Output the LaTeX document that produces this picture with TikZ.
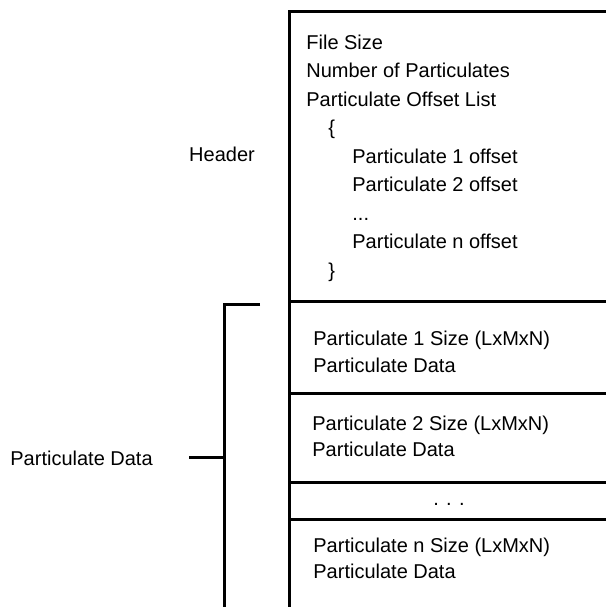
\documentclass[tikz,border=0pt]{standalone}
\usepackage{fontspec}
\setmainfont{Liberation Sans}
\usetikzlibrary{positioning}

\begin{document}
\begin{tikzpicture}[x=0.5pt,y=-0.5pt]
			\tikzstyle{every node} = [font = \fontsize{10}{12}\selectfont, inner sep = 0pt, anchor = base west]
			\tikzstyle{wall} = [line width = 1.5pt]
				\useasboundingbox (0,0) rectangle (606,607);
				% outer box, open to the right and below
				\coordinate (corner) at (289,11);
				\coordinate (topright) at (620,11);
				\coordinate (bottomleft) at (289,620);
				\path[draw,wall] (topright) -- (corner) -- (bottomleft);
				\foreach \y/\sep in {301/sepa, 393/sepb, 482/sepc, 519/sepd} {
					\coordinate (\sep l) at (289,\y);
					\coordinate (\sep r) at (620,\y);
					\path[draw,wall] (\sep l) -- (\sep r);
				}
				% header block
				\node (filesize) at (306,49) {File Size};
				\node (numpart) at (306,77.5) {Number of Particulates};
				\node (offlist) at (306,106) {Particulate Offset List};
				\node (lbrace) at (328,134.5) {\{};
				\node (off1) at (352,163) {Particulate 1 offset};
				\node (off2) at (352,191.5) {Particulate 2 offset};
				\node (offdots) at (352,220) {...};
				\node (offn) at (352,248.5) {Particulate n offset};
				\node (rbrace) at (328,277) {\}};
				\node[anchor = base] (header) at (222,161) {Header};
				% data blocks
				\node (size1) at (313,345) {Particulate 1 Size (LxMxN)};
				\node (data1) at (313,372) {Particulate Data};
				\node (size2) at (312,430) {Particulate 2 Size (LxMxN)};
				\node (data2) at (312,456) {Particulate Data};
				\node[anchor = base] (rowdots) at (449,505) {. . .};
				\node (sizen) at (313,552) {Particulate n Size (LxMxN)};
				\node (datan) at (313,578) {Particulate Data};
				% bracket
				\node (pdata) at (10,465) {Particulate Data};
				\coordinate (brtop) at (260,304);
				\coordinate (brcorner) at (224,304);
				\coordinate (brbottom) at (224,620);
				\coordinate (brmid) at (224,457);
				\coordinate (tickend) at (189,457);
				\path[draw,wall] (brtop) -- (brcorner) -- (brbottom);
				\path[draw,wall] (tickend) -- (brmid);
			\end{tikzpicture}
\end{document}
